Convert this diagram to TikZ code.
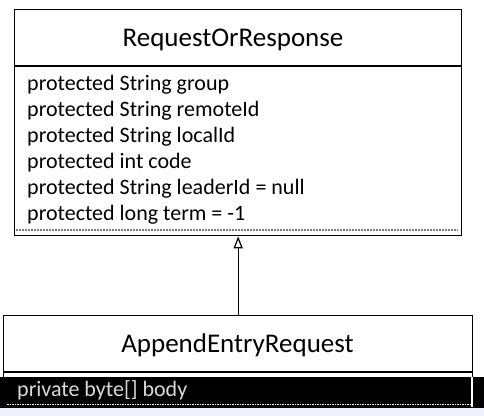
\documentclass[tikz,border=0pt]{standalone}
\usepackage{fontspec}
\setmainfont{Carlito}
\usetikzlibrary{arrows.meta}
\begin{document}
\begin{tikzpicture}[x=1pt,y=-1pt,
  box/.style={draw=black, line width=1.3pt, fill=white, inner sep=0pt, anchor=north west},
  attr/.style={anchor=base west, inner sep=0pt, font=\fontsize{22}{26}\selectfont},
  title/.style={anchor=base, inner sep=0pt, font=\fontsize{27}{32}\selectfont},
  divider/.style={line width=1.3pt},
  dotline/.style={draw=gray, line width=1.3pt, dash pattern=on 2pt off 1pt},
  inherit/.style={line width=1.2pt, -{Triangle[open, length=12pt, width=9pt, line width=1.2pt]}}]
\useasboundingbox (0,0) rectangle (484,416);
\fill[white] (0,0) rectangle (484,416);
% top class
\node[box, minimum width=447pt, minimum height=226pt] (top) at (14,9) {};
\draw[divider] (14,66) -- (461,66);
\node[title] (topname) at (233,46) {RequestOrResponse};
\node[attr] (a1) at (27,90) {protected String group};
\node[attr] (a2) at (27,116) {protected String remoteId};
\node[attr] (a3) at (27,142) {protected String localId};
\node[attr] (a4) at (27,168) {protected int code};
\node[attr] (a5) at (27,194) {protected String leaderId = null};
\node[attr] (a6) at (27,220) {protected long term = -1};
\draw[dotline] (16,230) -- (458,230);
% bottom class
\node[box, minimum width=469pt, minimum height=93pt] (bot) at (3,315) {};
\draw[divider] (3,372) -- (472,372);
\node[title] (botname) at (237.5,352) {AppendEntryRequest};
% black band
\fill[black] (0,377) rectangle (484,408);
\fill[blue!6] (0,408) rectangle (484,416);
\draw[white, line width=1.2pt] (472,377) -- (472,407);
\draw[white, line width=1pt, dash pattern=on 1.5pt off 1pt] (7,404) -- (473,404);
\node[attr, text=black!15] (b1) at (17,396) {private byte[] body};
% inheritance
\draw[inherit] (bot.north) -- (top.south);
\end{tikzpicture}
\end{document}
